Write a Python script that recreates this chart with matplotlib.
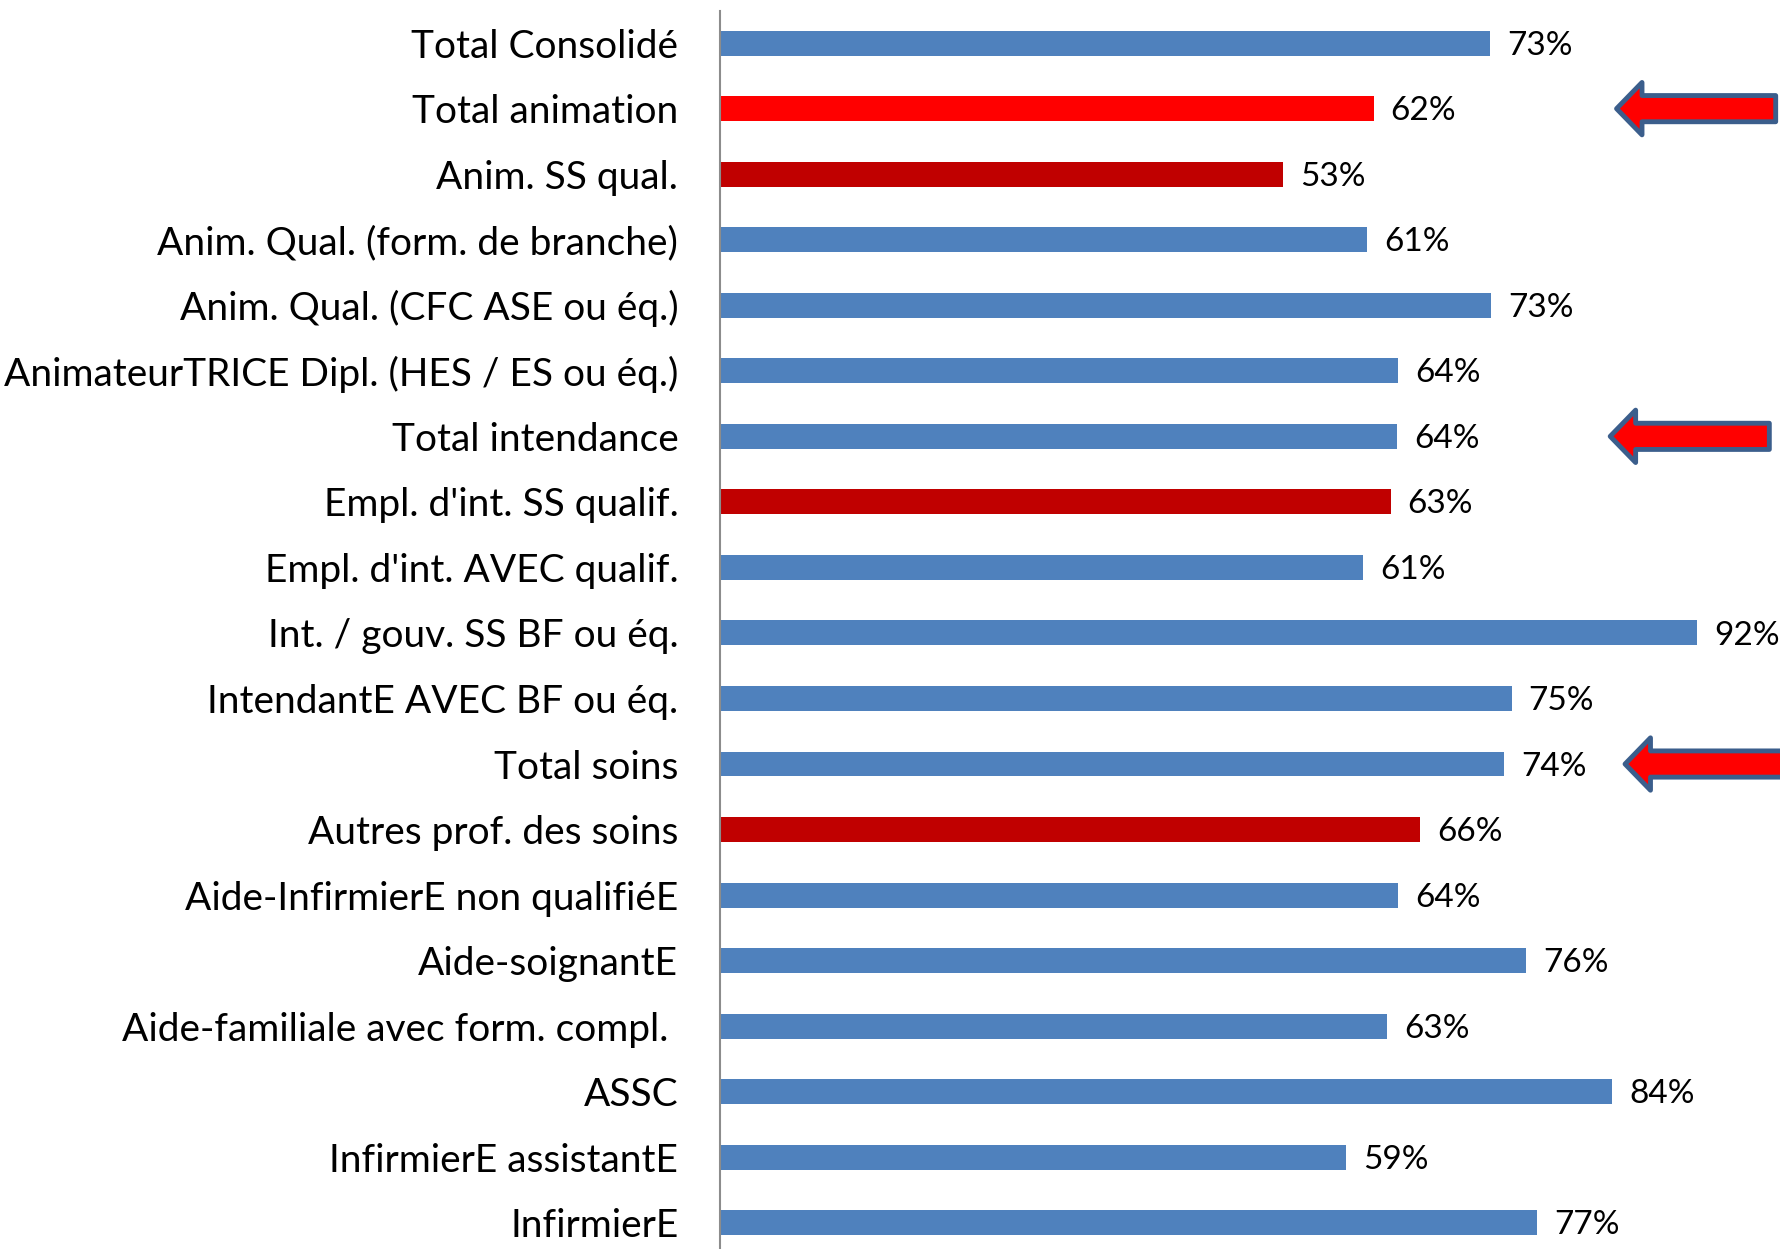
import matplotlib
matplotlib.use("Agg")
import matplotlib.pyplot as plt
from matplotlib.patches import FancyArrow

categories = [
    "Total Consolidé",
    "Total animation",
    "Anim. SS qual.",
    "Anim. Qual. (form. de branche)",
    "Anim. Qual. (CFC ASE ou éq.)",
    "AnimateurTRICE Dipl. (HES / ES ou éq.)",
    "Total intendance",
    "Empl. d'int. SS qualif.",
    "Empl. d'int. AVEC qualif.",
    "Int. / gouv. SS BF ou éq.",
    "IntendantE AVEC BF ou éq.",
    "Total soins",
    "Autres prof. des soins",
    "Aide-InfirmierE non qualifiéE",
    "Aide-soignantE",
    "Aide-familiale avec form. compl. ",
    "ASSC",
    "InfirmierE assistantE",
    "InfirmierE",
]
values = [72.6, 61.6, 53.1, 61.0, 72.7, 63.9, 63.8, 63.2, 60.6, 92.1,
          74.6, 73.9, 66.0, 63.9, 76.0, 62.9, 84.1, 59.0, 77.0]
highlight = ["blue", "red", "dark", "blue", "blue", "blue", "blue", "dark", "blue", "blue",
             "blue", "blue", "dark", "blue", "blue", "blue", "blue", "blue", "blue"]
arrow_rows = ["Total animation", "Total intendance", "Total soins"]

palette = {"blue": "#4F81BD", "red": "#FF0000", "dark": "#C00000"}

plt.rcParams['font.family'] = ['Lato', 'DejaVu Sans']

fig = plt.figure(figsize=(17.81, 12.49), dpi=100)
ax = fig.add_axes([720 / 1781, 0.0, 1 - 720 / 1781, 1 - 11 / 1249])

ypos = list(range(len(categories)))
ax.barh(ypos, values, height=0.38, color=[palette[h] for h in highlight])

for y, v in zip(ypos, values):
    ax.text(v + 1.6, y + 0.04, f"{round(v):d}%", va="center", ha="left", fontsize=24, color="black")

ax.set_yticks(ypos)
ax.set_yticklabels(categories, fontsize=28)
ax.tick_params(axis="y", length=0, pad=30)
ax.set_xticks([])
ax.set_xlim(0, 100)
ax.set_ylim(18.4, -0.49)
for s in ["top", "right", "bottom"]:
    ax.spines[s].set_visible(False)
ax.spines["left"].set_color("#8C8C8C")
ax.spines["left"].set_linewidth(1.5)

arrow_geom = [(99.5, 84.5), (98.9, 83.9), (102.0, 85.3)]
for name, (tail, tip) in zip(arrow_rows, arrow_geom):
    y = categories.index(name)
    arr = FancyArrow(tail, y, tip - tail, 0, width=0.40, head_width=0.80,
                     head_length=2.4, length_includes_head=True,
                     facecolor="#FF0000", edgecolor="#3B5E8C", linewidth=3.5,
                     joinstyle="round", clip_on=False)
    ax.add_patch(arr)

fig.savefig("out.png", dpi=100)
